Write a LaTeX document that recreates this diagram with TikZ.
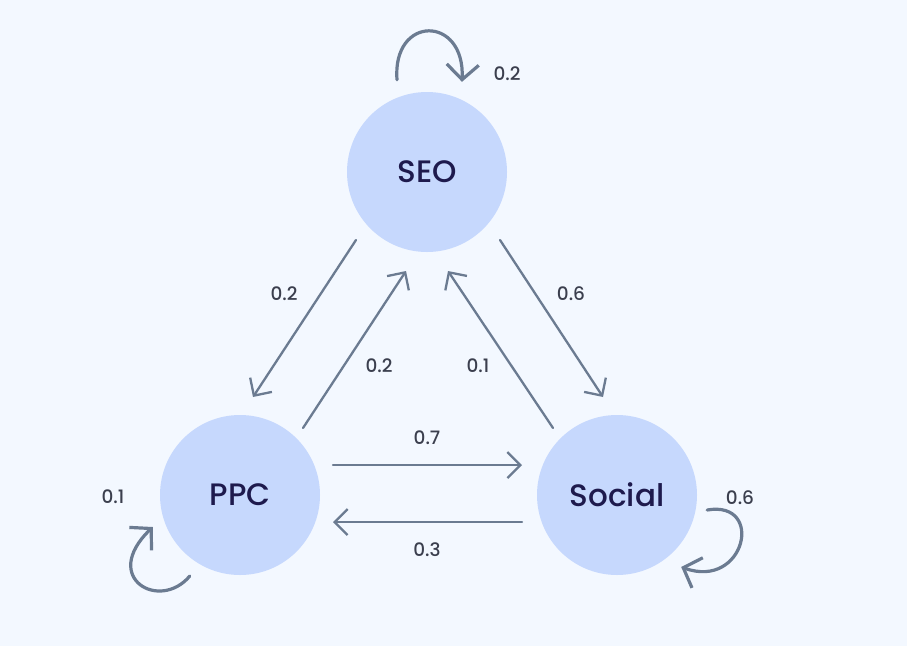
\documentclass[tikz,border=0pt]{standalone}
\usepackage{fontspec}
\setmainfont{Poppins}
\newfontfamily\medfont{Poppins Medium}
\usetikzlibrary{arrows.meta}
\definecolor{bgc}{HTML}{F3F8FF}
\definecolor{circ}{HTML}{C6D8FD}
\definecolor{arrc}{HTML}{6B7B91}
\definecolor{ink}{HTML}{1E1A4D}
\definecolor{lblc}{HTML}{3B3F4E}
\begin{document}
\begin{tikzpicture}[x=1pt,y=-1pt,line join=round,line cap=round]
	\tikzset{state/.style={circle,fill=circ,minimum size=160pt,inner sep=0pt,text=ink,font=\medfont\fontsize{31}{31}\selectfont},
		edge/.style={draw=arrc,line width=2.3pt,-{Straight Barb[length=13pt,width=26pt]}},
		selfloop/.style={draw=arrc,line width=3.2pt,-{Straight Barb[length=15pt,width=32pt]}},
		lbl/.style={text=lblc,font=\medfont\fontsize{18.5}{18.5}\selectfont,inner sep=0pt}}
	\fill[bgc] (0,0) rectangle (907,646);
	\useasboundingbox (0,0) rectangle (907,646);
	\node[state] (seo) at (427,172) {SEO};
	\node[state] (ppc) at (240,495) {PPC};
	\node[state] (social) at (617,495) {Social};
	% pairs of arrows between the states
	\draw[edge] ([shift={(-71,68)}]seo.center) -- ([shift={(13,-98)}]ppc.center);
	\draw[edge] ([shift={(63,-67)}]ppc.center) -- ([shift={(-21,99)}]seo.center);
	\draw[edge] ([shift={(73,68)}]seo.center) -- ([shift={(-14,-98)}]social.center);
	\draw[edge] ([shift={(-64,-67)}]social.center) -- ([shift={(21,99)}]seo.center);
	\draw[edge] ([shift={(93,-30)}]ppc.center) -- ([shift={(-95,-30)}]social.center);
	\draw[edge] ([shift={(-95,27)}]social.center) -- ([shift={(93,27)}]ppc.center);
	% self loops
	\draw[selfloop] ([shift={(-30,-12)}]seo.north) .. controls +(-5,-65) and +(3,-67) .. ([shift={(35,-10)}]seo.north);
	\draw[selfloop] ([shift={(30,81)}]ppc.west) .. controls +(-30,36) and +(-53,51) .. ([shift={(-7,32)}]ppc.west);
	\draw[selfloop] ([shift={(10,15)}]social.east) .. controls +(58,-10) and +(64,23) .. ([shift={(-16,72)}]social.east);
	% probabilities
	\foreach \x/\y/\t/\n in {507/74/0.2/lseo, 284/294/0.2/lsp, 379/366/0.2/lps, 478/366/0.1/lxs, 571/294/0.6/lsx, 427/438/0.7/lpx, 427/550/0.3/lxp, 113/497/0.1/lpp, 740/498/0.6/lxx}
	\node[lbl] (\n) at (\x,\y) {\t};
\end{tikzpicture}
\end{document}
